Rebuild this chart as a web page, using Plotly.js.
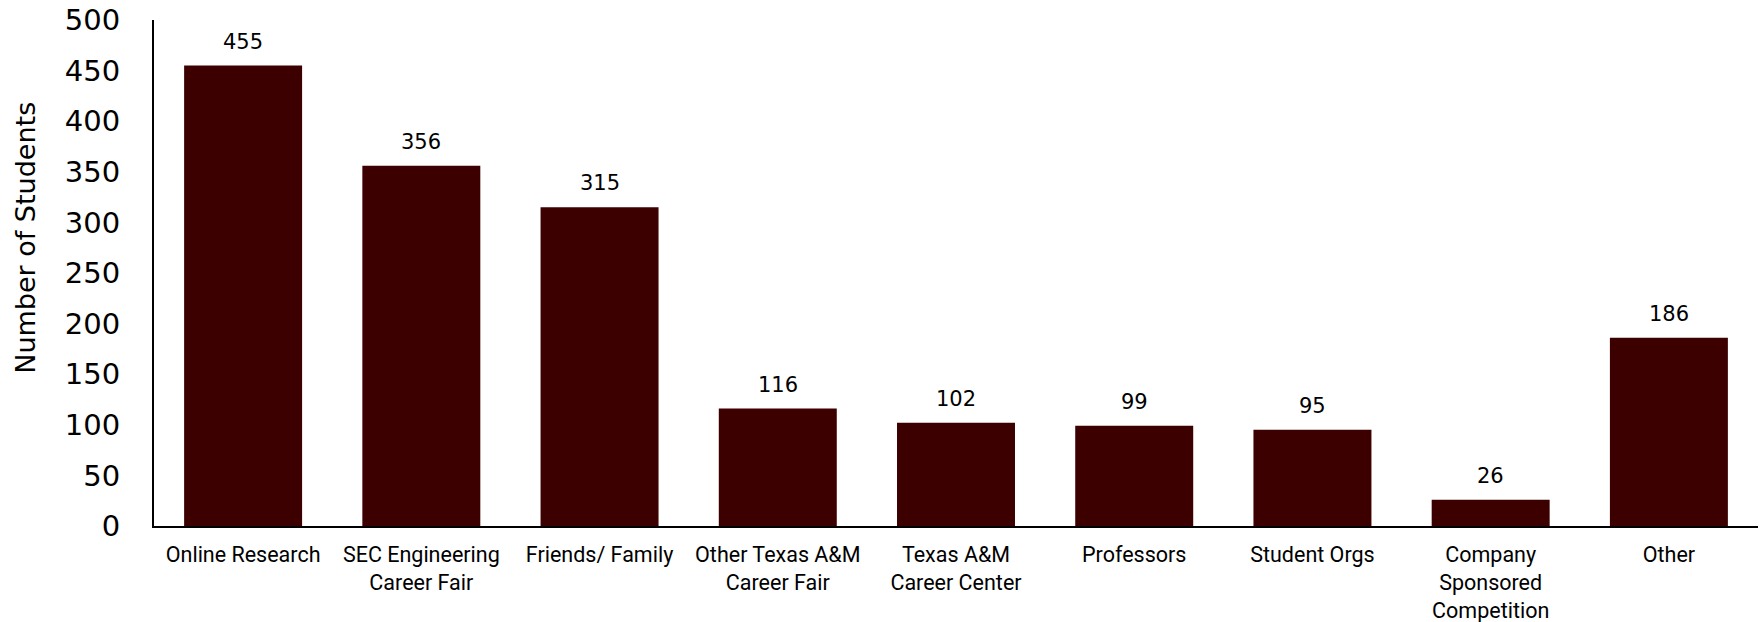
<!DOCTYPE html>
<html>
<head>
<meta charset="utf-8">
<script src="https://cdn.plot.ly/plotly-3.0.1.min.js"></script>
<style>html,body{margin:0;padding:0;background:#fff;}#chart{width:1761px;height:622px;}</style>
</head>
<body>
<div id="chart"></div>
<script>
const categories = ["Online Research", "SEC Engineering<br>Career Fair", "Friends/ Family",
  "Other Texas A&amp;M<br>Career Fair", "Texas A&amp;M<br>Career Center", "Professors",
  "Student Orgs", "Company<br>Sponsored<br>Competition", "Other"];
const students = [455, 356, 315, 116, 102, 99, 95, 26, 186];
const yTicks = [0, 50, 100, 150, 200, 250, 300, 350, 400, 450, 500];

const barColor = "#3c0000";

const labels = categories.map((c, i) => ({
  x: c, y: students[i], xref: "x", yref: "y",
  text: String(students[i]), showarrow: false,
  yanchor: "middle", yshift: 24,
  font: {family: "DejaVu Sans, Verdana, sans-serif", size: 21, color: "#000"}
}));

labels.push({
  xref: "paper", yref: "paper", x: -0.0806, y: 0.569,
  text: "Number of Students", textangle: -90, showarrow: false,
  xanchor: "center", yanchor: "middle",
  font: {family: "DejaVu Sans, Verdana, sans-serif", size: 27, color: "#000"}
});

Plotly.newPlot("chart", [{
  type: "bar", x: categories, y: students,
  marker: {color: barColor, line: {width: 0}},
  hoverinfo: "x+y"
}], {
  width: 1761, height: 622,
  margin: {l: 154, r: 3, t: 20, b: 96},
  paper_bgcolor: "#fff", plot_bgcolor: "#fff",
  bargap: 0.338,
  showlegend: false,
  xaxis: {
    type: "category", showgrid: false, zeroline: false,
    showline: true, linecolor: "#000", linewidth: 2,
    ticks: "", ticklabelstandoff: 8,
    tickfont: {family: "Roboto, Liberation Sans, sans-serif", size: 21.5, color: "#000"}
  },
  yaxis: {
    range: [0, 500], tickvals: yTicks, ticktext: yTicks.map(String),
    showgrid: false, zeroline: false,
    showline: true, linecolor: "#000", linewidth: 2,
    ticks: "", ticklabelstandoff: 26,
    tickfont: {family: "DejaVu Sans, Verdana, sans-serif", size: 29, color: "#000"}
  },
  annotations: labels
}, {staticPlot: true});
</script>
</body>
</html>
